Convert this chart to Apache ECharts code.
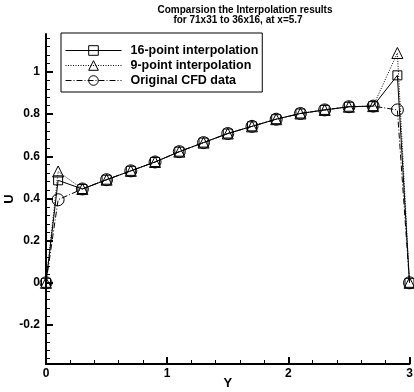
<!DOCTYPE html>
<html>
<head>
<meta charset="utf-8">
<script src="https://cdn.jsdelivr.net/npm/echarts@6/dist/echarts.min.js"></script>
<style>html,body{margin:0;padding:0;background:#fff}#c{width:414px;height:392px}</style>
</head>
<body>
<div id="c"></div>
<script>
var titleLine1 = 'Comparsion the Interpolation results';
var titleLine2 = 'for 71x31 to 36x16, at x=5.7';
var seriesNames = ['16-point interpolation', '9-point interpolation', 'Original CFD data'];
var yPositions = [0, 0.1, 0.3, 0.5, 0.7, 0.9, 1.1, 1.3, 1.5, 1.7, 1.9, 2.1, 2.3, 2.5, 2.7, 2.9, 3.0];
var interp16 = [0, 0.486, 0.445, 0.489, 0.531, 0.573, 0.622, 0.665, 0.708, 0.742, 0.776, 0.803, 0.820, 0.835, 0.838, 0.984, 0];
var interp9  = [0, 0.528, 0.445, 0.489, 0.531, 0.573, 0.622, 0.665, 0.708, 0.742, 0.776, 0.803, 0.820, 0.835, 0.838, 1.090, 0];
var cfdData  = [0, 0.394, 0.445, 0.489, 0.531, 0.573, 0.622, 0.665, 0.708, 0.742, 0.776, 0.803, 0.820, 0.835, 0.838, 0.820, 0];
var xMajorTicks = [0, 1, 2, 3];
var xMinorTicks = [0.2, 0.4, 0.6, 0.8, 1.2, 1.4, 1.6, 1.8, 2.2, 2.4, 2.6, 2.8];
var yMajorTicks = [-0.2, 0, 0.2, 0.4, 0.6, 0.8, 1.0];
var yMinorTicks = [-0.36, -0.32, -0.28, -0.24, -0.16, -0.12, -0.08, -0.04, 0.04, 0.08, 0.12, 0.16, 0.24, 0.28, 0.32, 0.36,
  0.44, 0.48, 0.52, 0.56, 0.64, 0.68, 0.72, 0.76, 0.84, 0.88, 0.92, 0.96, 1.04, 1.08, 1.12, 1.16];

var FONT = 'Liberation Sans';
function pairs(xs, ys) { return xs.map(function (x, i) { return [x, ys[i]]; }); }
function fmt(v) { return String(Math.round(v * 10) / 10); }

var X_MIN = 0, X_MAX = 3, Y_MIN = -0.385, Y_MAX = 1.18;
var chart = echarts.init(document.getElementById('c'), null, { renderer: 'canvas' });
var lbl = { fontFamily: FONT, fontWeight: 'bold', fontSize: 12, color: '#000' };

chart.setOption({
  animation: false,
  backgroundColor: '#fff',
  title: [
    { text: titleLine1, left: 245, top: 5, padding: 0, textAlign: 'center',
      textStyle: { fontFamily: FONT, fontWeight: 'bold', fontSize: 10, color: '#000' } },
    { text: titleLine2, left: 238, top: 15.5, padding: 0, textAlign: 'center',
      textStyle: { fontFamily: FONT, fontWeight: 'bold', fontSize: 10, color: '#000' } }
  ],
  grid: { left: 46, right: 4.5, top: 34, bottom: 28, outerBoundsMode: 'none', containLabel: false },
  legend: {
    orient: 'vertical', left: 61, top: 33,
    itemWidth: 56, itemHeight: 12, itemGap: 2,
    padding: [11, 4, 5, 4],
    borderColor: '#000', borderWidth: 1, backgroundColor: '#fff',
    itemStyle: { borderWidth: 1 },
    lineStyle: { width: 1 },
    textStyle: { fontFamily: FONT, fontWeight: 'bold', fontSize: 12.5, color: '#000', padding: [0, 0, 0, 4] },
    data: seriesNames
  },
  xAxis: [
    { type: 'value', min: X_MIN, max: X_MAX, name: 'Y', nameLocation: 'middle', nameGap: 13, nameMoveOverlap: false,
      nameTextStyle: { fontFamily: FONT, fontWeight: 'bold', fontSize: 13, color: '#000' },
      axisLine: { show: true, onZero: false, lineStyle: { color: '#000', width: 2 } },
      axisTick: { show: true, inside: true, length: 7, lineStyle: { color: '#000', width: 2 }, customValues: xMajorTicks },
      axisLabel: Object.assign({ margin: 4, customValues: xMajorTicks, formatter: fmt }, lbl),
      splitLine: { show: false } },
    { type: 'value', min: X_MIN, max: X_MAX, position: 'bottom',
      axisLine: { show: false, onZero: false },
      axisTick: { show: true, inside: true, length: 4, lineStyle: { color: '#000', width: 1 }, customValues: xMinorTicks },
      axisLabel: { show: false }, splitLine: { show: false } }
  ],
  yAxis: [
    { type: 'value', min: Y_MIN, max: Y_MAX, name: 'U', nameLocation: 'middle', nameGap: 30, nameMoveOverlap: false,
      nameTextStyle: { fontFamily: FONT, fontWeight: 'bold', fontSize: 13, color: '#000' },
      axisLine: { show: true, onZero: false, lineStyle: { color: '#000', width: 2 } },
      axisTick: { show: true, inside: true, length: 7, lineStyle: { color: '#000', width: 2 }, customValues: yMajorTicks },
      axisLabel: Object.assign({ margin: 6, customValues: yMajorTicks, formatter: fmt }, lbl),
      splitLine: { show: false } },
    { type: 'value', min: Y_MIN, max: Y_MAX, position: 'left',
      axisLine: { show: false, onZero: false },
      axisTick: { show: true, inside: true, length: 4, lineStyle: { color: '#000', width: 1 }, customValues: yMinorTicks },
      axisLabel: { show: false }, splitLine: { show: false } }
  ],
  series: [
    { name: seriesNames[2], type: 'line', data: pairs(yPositions, cfdData),
      symbol: 'circle', symbolSize: 12,
      itemStyle: { color: 'rgba(0,0,0,0)', borderColor: '#000', borderWidth: 1 },
      lineStyle: { color: '#000', width: 1, type: [6, 2, 1, 2] }, z: 3 },
    { name: seriesNames[1], type: 'line', data: pairs(yPositions, interp9),
      symbol: 'triangle', symbolSize: 11,
      itemStyle: { color: 'rgba(0,0,0,0)', borderColor: '#000', borderWidth: 1 },
      lineStyle: { color: '#000', width: 1, type: [1, 1.5] }, z: 4 },
    { name: seriesNames[0], type: 'line', data: pairs(yPositions, interp16),
      symbol: 'rect', symbolSize: 9,
      itemStyle: { color: 'rgba(0,0,0,0)', borderColor: '#000', borderWidth: 1 },
      lineStyle: { color: '#000', width: 1 }, z: 5 }
  ]
});
</script>
</body>
</html>
